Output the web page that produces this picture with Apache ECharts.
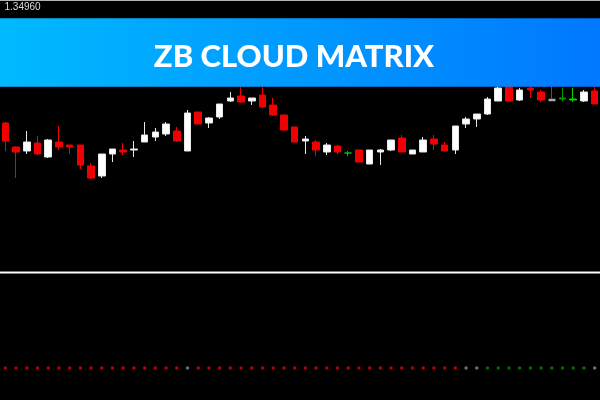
<!DOCTYPE html>
<html>
<head>
<meta charset="utf-8">
<script src="https://cdn.jsdelivr.net/npm/echarts@6/dist/echarts.min.js"></script>
<style>
  html, body { margin: 0; padding: 0; background: #000; }
  #chart { width: 600px; height: 400px; }
</style>
</head>
<body>
<div id="chart"></div>
<script>
// ---- data ----
const categories = Array.from({length: 56}, (_, i) => 'Bar ' + (i + 1));
const opens  = [1.34844,1.34820,1.34816,1.34824,1.34810,1.34825,1.34822,1.34822,1.34801,1.34791,
                1.34813,1.34817,1.34817,1.34825,1.34830,1.34833,1.34836,1.34816,1.34855,1.34844,
                1.34850,1.34866,1.34871,1.34866,1.34872,1.34862,1.34852,1.34840,1.34826,1.34825,
                1.34815,1.34821,1.34814,1.34817,1.34803,1.34815,1.34817,1.34829,1.34813,1.34815,
                1.34828,1.34822,1.34817,1.34843,1.34848,1.34853,1.34866,1.34883,1.34867,1.34879,
                1.34875,1.34866,1.34868,1.34867,1.34866,1.34876];
const closes = [1.34826,1.34815,1.34825,1.34813,1.34827,1.34820,1.34820,1.34802,1.34789,1.34813,
                1.34818,1.34815,1.34818,1.34832,1.34835,1.34843,1.34826,1.34854,1.34843,1.34849,
                1.34863,1.34869,1.34865,1.34869,1.34860,1.34852,1.34837,1.34825,1.34828,1.34817,
                1.34822,1.34815,1.34814,1.34805,1.34817,1.34817,1.34827,1.34815,1.34817,1.34827,
                1.34823,1.34816,1.34841,1.34848,1.34853,1.34868,1.34879,1.34866,1.34877,1.34877,
                1.34867,1.34868,1.34869,1.34868,1.34875,1.34863];
const lows   = [1.34816,1.34789,1.34813,1.34812,1.34809,1.34817,1.34813,1.34798,1.34788,1.34789,
                1.34805,1.34812,1.34810,1.34825,1.34826,1.34831,1.34825,1.34816,1.34843,1.34839,
                1.34848,1.34865,1.34864,1.34862,1.34859,1.34851,1.34837,1.34825,1.34813,1.34811,
                1.34812,1.34813,1.34811,1.34805,1.34803,1.34802,1.34816,1.34815,1.34813,1.34815,
                1.34817,1.34816,1.34813,1.34839,1.34840,1.34852,1.34866,1.34866,1.34866,1.34869,
                1.34865,1.34866,1.34866,1.34865,1.34865,1.34863];
const highs  = [1.34845,1.34821,1.34836,1.34831,1.34828,1.34841,1.34822,1.34822,1.34804,1.34813,
                1.34818,1.34824,1.34826,1.34845,1.34839,1.34845,1.34840,1.34857,1.34855,1.34850,
                1.34863,1.34875,1.34887,1.34869,1.34887,1.34869,1.34852,1.34840,1.34831,1.34827,
                1.34824,1.34822,1.34816,1.34817,1.34817,1.34818,1.34827,1.34832,1.34817,1.34830,
                1.34832,1.34825,1.34841,1.34850,1.34853,1.34870,1.34881,1.34885,1.34879,1.34882,
                1.34877,1.34885,1.34879,1.34879,1.34877,1.34885];
// indicator state per bar: 'sell', 'buy' or 'flat'
const signals = ['sell','sell','sell','sell','sell','sell','sell','sell','sell','sell',
                 'sell','sell','sell','sell','sell','sell','sell','flat','sell','sell',
                 'sell','sell','sell','sell','sell','sell','sell','sell','sell','sell',
                 'sell','sell','sell','sell','sell','sell','sell','sell','sell','sell',
                 'sell','sell','sell','flat','flat','buy','buy','buy','buy','buy',
                 'buy','buy','buy','buy','buy','flat'];
const yTickLabels = ['1.34960'];
const title = 'ZB CLOUD MATRIX';

// ---- styles (kept apart from the data) ----
const UP = '#ffffff', DOWN = '#f00000';
const dojiColors = { 32: '#00c000', 52: '#009a00', 53: '#00d800' };
const wickOverride = { 51: '#555555' };
const signalColors = { sell: '#e00000', buy: '#008a00', flat: '#8a8a8a' };

const candleData = opens.map((o, i) => {
  const item = { value: [o, closes[i], lows[i], highs[i]] };
  if (dojiColors[i]) {
    const c = dojiColors[i];
    item.itemStyle = { color: c, color0: c, borderColor: c, borderColor0: c };
  } else if (wickOverride[i]) {
    item.itemStyle = { borderColor: wickOverride[i], borderColor0: wickOverride[i] };
  }
  return item;
});
const dotData = signals.map((s, i) => ({
  value: [i, 0],
  itemStyle: { color: signalColors[s] }
}));

const chart = echarts.init(document.getElementById('chart'), null, { renderer: 'canvas' });
chart.setOption({
  backgroundColor: '#000000',
  animation: false,
  grid: [
    { left: -2.1, right: -1.6, top: 7, bottom: 130 },
    { left: -2.1, right: -1.6, top: 356, height: 24 }
  ],
  xAxis: [
    { type: 'category', gridIndex: 0, data: categories, boundaryGap: true,
      axisLine: { show: false }, axisTick: { show: false }, axisLabel: { show: false }, splitLine: { show: false } },
    { type: 'category', gridIndex: 1, data: categories, boundaryGap: true,
      axisLine: { show: false }, axisTick: { show: false }, axisLabel: { show: false }, splitLine: { show: false } }
  ],
  yAxis: [
    { type: 'value', gridIndex: 0, min: 1.34697, max: 1.34960,
      axisLine: { show: false }, axisTick: { show: false }, splitLine: { show: false },
      axisLabel: { show: true, inside: true, margin: 4.5, customValues: yTickLabels.map(Number),
        formatter: v => v.toFixed(5), color: '#dcdcdc', fontFamily: 'Liberation Sans',
        fontSize: 10, verticalAlign: 'middle' } },
    { type: 'value', gridIndex: 1, min: -1, max: 1, show: false }
  ],
  series: [
    { type: 'candlestick', xAxisIndex: 0, yAxisIndex: 0, data: candleData, barWidth: 7,
      itemStyle: { color: UP, color0: DOWN, borderColor: '#e6e6e6', borderColor0: DOWN, borderWidth: 1 } },
    { type: 'scatter', xAxisIndex: 1, yAxisIndex: 1, data: dotData, symbol: 'circle', symbolSize: 3.5 }
  ],
  graphic: [
    { type: 'line', shape: { x1: 0, y1: 0.5, x2: 600, y2: 0.5 }, style: { stroke: '#b0b0b0', lineWidth: 1 }, z: 100 },
    { type: 'line', shape: { x1: 0, y1: 271.5, x2: 600, y2: 271.5 }, style: { stroke: '#777777', lineWidth: 1 }, z: 100 },
    { type: 'line', shape: { x1: 0, y1: 272.8, x2: 600, y2: 272.8 }, style: { stroke: '#ffffff', lineWidth: 1.6 }, z: 100 },
    { type: 'rect', shape: { x: 0, y: 18.3, width: 600, height: 68.4 }, z: 100,
      style: { fill: new echarts.graphic.LinearGradient(0, 0, 1, 0, [
        { offset: 0, color: '#00baff' }, { offset: 1, color: '#0078ff' }]) } },
    { type: 'text', x: 294, y: 57, z: 101,
      style: { text: title, fill: '#ffffff', font: '900 31px Lato', textAlign: 'center', textVerticalAlign: 'middle' } }
  ]
});
</script>
</body>
</html>
